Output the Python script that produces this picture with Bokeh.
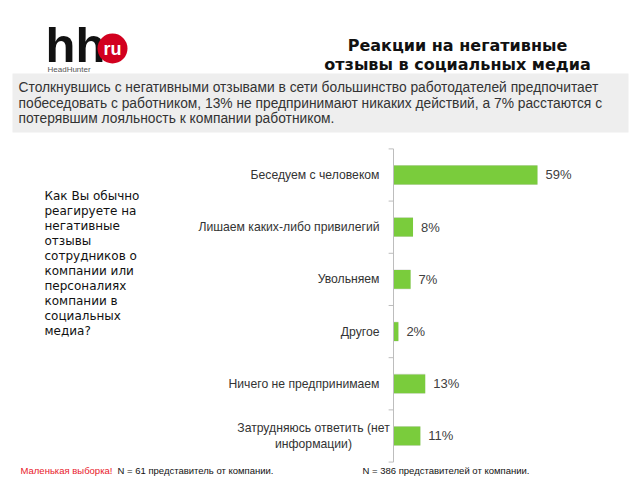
from bokeh.plotting import figure
from bokeh.models import Range1d, ColumnDataSource
from bokeh.core.properties import value
from bokeh.embed import file_html
from bokeh.resources import INLINE

# ---- data ----
categories = [
    "Беседуем с человеком",
    "Лишаем каких-либо привилегий",
    "Увольняем",
    "Другое",
    "Ничего не предпринимаем",
    "Затрудняюсь ответить (нет\nинформации)",
]
values = [59, 8, 7, 2, 13, 11]

title_lines = ["Реакции на негативные", "отзывы в социальных медиа"]
summary_lines = [
    "Столкнувшись с негативными отзывами в сети большинство работодателей предпочитает",
    "побеседовать с работником, 13% не предпринимают никаких действий, а 7% расстаются с",
    "потерявшим лояльность к компании работником.",
]
question_lines = ["Как Вы обычно", "реагируете на", "негативные", "отзывы",
                  "сотрудников о", "компании или", "персоналиях", "компании в",
                  "социальных", "медиа?"]
footer_warn = "Маленькая выборка!"
footer_left = "N = 61 представитель от компании."
footer_right = "N = 386 представителей от компании."

W, H = 640, 480
p = figure(width=W, height=H, x_range=Range1d(0, 640), y_range=Range1d(480, 0),
           output_backend="svg", toolbar_location=None,
           x_axis_location=None, y_axis_location=None, min_border=0)
p.grid.visible = False
p.outline_line_color = None
p.background_fill_color = "white"
p.border_fill_color = "white"

# bar scales
p.extra_x_ranges = {"pct": Range1d(-161.07, 101.23)}
p.extra_y_ranges = {"cat": Range1d(5.853, -3.343)}

idx = list(range(len(categories)))
src = ColumnDataSource(dict(
    y=idx, v=values, lab=[f"{v}%" for v in values], cat=categories,
    align=["center" if "\n" in c else "right" for c in categories],
    xoff=[-80 if "\n" in c else -14 for c in categories],
))

# logo
p.text(x=[45], y=[44], text=["hh"], text_font=value("Liberation Sans"),
       text_font_style="bold", text_font_size="49px", text_color="#111111",
       text_baseline="middle")
p.circle(x=[112], y=[48], radius=15, fill_color="#d2001f", line_color=None)
p.text(x=[112], y=[48], text=["ru"], text_font=value("Liberation Sans"),
       text_font_style="bold", text_font_size="18px", text_color="white",
       text_align="center", text_baseline="middle")
p.text(x=[47], y=[69], text=["HeadHunter"], text_font=value("Liberation Sans"),
       text_font_size="8px", text_color="#555555", text_baseline="middle")

# title
p.text(x=[457, 457], y=[45, 64], text=title_lines, text_font=value("DejaVu Sans"),
       text_font_style="bold", text_font_size="16px", text_color="#111111",
       text_align="center", text_baseline="middle")

# summary box
p.quad(left=[12], right=[628], top=[73], bottom=[132], fill_color="#eeeeee", line_color=None)
p.text(x=[18, 18, 18], y=[87, 102.5, 118], text=summary_lines, text_font=value("Liberation Sans"),
       text_font_size="13.8px", text_color="#333333", text_baseline="middle")

# question
p.text(x=[44] * len(question_lines), y=[195 + 15 * i for i in range(len(question_lines))],
       text=question_lines, text_font=value("DejaVu Sans"),
       text_font_size="12px", text_color="#111111", text_baseline="middle")

# footers
p.text(x=[20], y=[470], text=[footer_warn], text_font=value("Liberation Sans"),
       text_font_size="9.5px", text_color="#e8202a", text_baseline="middle")
p.text(x=[117], y=[470], text=[footer_left], text_font=value("Liberation Sans"),
       text_font_size="9.5px", text_color="#111111", text_baseline="middle")
p.text(x=[362], y=[470], text=[footer_right], text_font=value("Liberation Sans"),
       text_font_size="9.5px", text_color="#111111", text_baseline="middle")

# bars: shadow then bar
p.hbar(y="y", left=0, right="v", height=0.38, source=src,
       x_range_name="pct", y_range_name="cat",
       fill_color="#d4d4d4", line_color=None, fill_alpha=0.8)
p.hbar(y="y", left=0, right="v", height=0.36, source=src,
       x_range_name="pct", y_range_name="cat",
       fill_color="#7acc3c", line_color=None)

# axis line + boundary ticks
n = len(categories)
p.segment(x0=[0], x1=[0], y0=[-0.5], y1=[n - 0.5], x_range_name="pct", y_range_name="cat",
          line_color="#bdbdbd", line_width=1)
bounds = [i - 0.5 for i in range(n + 1)]
p.segment(x0=[-2] * len(bounds), x1=[0] * len(bounds), y0=bounds, y1=bounds,
          x_range_name="pct", y_range_name="cat", line_color="#bdbdbd", line_width=1)

# value labels
p.text(x="v", y="y", text="lab", source=src, x_range_name="pct", y_range_name="cat",
       x_offset=8, text_font=value("Liberation Sans"), text_font_size="13px",
       text_color="#404040", text_baseline="middle")
# category labels
p.text(x=0, y="y", text="cat", source=src, x_range_name="pct", y_range_name="cat",
       x_offset="xoff", text_align="align", text_font=value("Liberation Sans"),
       text_font_size="12.2px", text_color="#333333", text_baseline="middle")

open("out.html", "w").write(file_html(p, INLINE))
